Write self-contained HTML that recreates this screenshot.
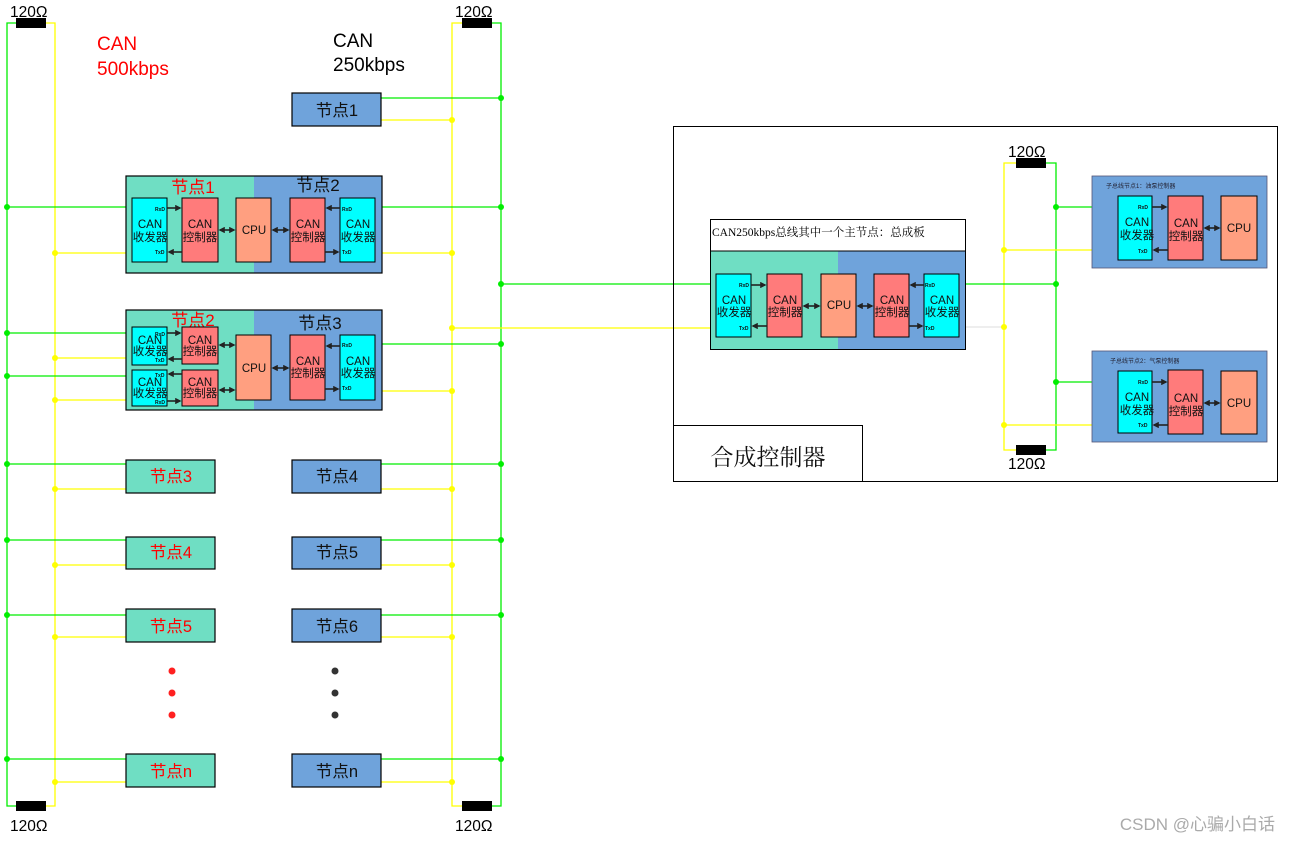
<!DOCTYPE html>
<html><head><meta charset="utf-8"><style>
html,body{margin:0;padding:0;background:#fff;}
svg{display:block;font-family:"Liberation Sans","Noto Sans CJK SC",sans-serif;}
</style></head><body>
<svg width="1290" height="842" viewBox="0 0 1290 842" xmlns="http://www.w3.org/2000/svg">
<defs>
<marker id="ah" markerWidth="4" markerHeight="4" refX="3" refY="2" orient="auto-start-reverse" markerUnits="strokeWidth"><path d="M0,0 L4,2 L0,4 z" fill="#222"/></marker>
</defs>
<g fill="none" stroke-width="1.3">
<path d="M16,23 H7 V806 H16" stroke="#00ee00"/>
<path d="M45,23 H55 V806 H45" stroke="#ffff00"/>
<path d="M462,23 H452 V806 H462" stroke="#ffff00"/>
<path d="M491,23 H501 V806 H491" stroke="#00ee00"/>
<path d="M1016,163 H1004 V450 H1016" stroke="#ffff00"/>
<path d="M1046,163 H1056 V450 H1046" stroke="#00ee00"/>
<g stroke="#00ee00">
<path d="M381,98 H501"/>
<path d="M7,207 H132 M375,207 H501"/>
<path d="M501,284 H716"/>
<path d="M7,333 H132 M7,376 H132 M375,344 H501"/>
<path d="M7,464 H126 M381,464 H501"/>
<path d="M7,540 H126 M381,540 H501"/>
<path d="M7,615 H126 M381,615 H501"/>
<path d="M7,759 H126 M381,759 H501"/>
<path d="M959,284 H1056 M1056,207 H1118 M1056,382 H1118"/>
</g>
<g stroke="#ffff00">
<path d="M381,120 H452"/>
<path d="M55,253 H132 M375,253 H452"/>
<path d="M452,328 H716"/>
<path d="M55,358 H132 M55,400 H132 M375,391 H452"/>
<path d="M55,489 H126 M381,489 H452"/>
<path d="M55,565 H126 M381,565 H452"/>
<path d="M55,637 H126 M381,637 H452"/>
<path d="M55,782 H126 M381,782 H452"/>
<path d="M1004,250 H1118 M1004,425 H1118"/>
</g>
<g stroke="#dddddd" stroke-width="1">
<path d="M959,327 H1004"/>
</g>
</g>
<g fill="#00ee00">
<circle cx="7" cy="207" r="3"/><circle cx="7" cy="333" r="3"/><circle cx="7" cy="376" r="3"/>
<circle cx="7" cy="464" r="3"/><circle cx="7" cy="540" r="3"/><circle cx="7" cy="615" r="3"/><circle cx="7" cy="759" r="3"/>
<circle cx="501" cy="98" r="3"/><circle cx="501" cy="207" r="3"/><circle cx="501" cy="284" r="3"/><circle cx="501" cy="344" r="3"/>
<circle cx="501" cy="464" r="3"/><circle cx="501" cy="540" r="3"/><circle cx="501" cy="615" r="3"/><circle cx="501" cy="759" r="3"/>
<circle cx="1056" cy="207" r="3"/><circle cx="1056" cy="284" r="3"/><circle cx="1056" cy="382" r="3"/>
</g>
<g fill="#ffff00">
<circle cx="55" cy="253" r="3"/><circle cx="55" cy="358" r="3"/><circle cx="55" cy="400" r="3"/>
<circle cx="55" cy="489" r="3"/><circle cx="55" cy="565" r="3"/><circle cx="55" cy="637" r="3"/><circle cx="55" cy="782" r="3"/>
<circle cx="452" cy="120" r="3"/><circle cx="452" cy="253" r="3"/><circle cx="452" cy="328" r="3"/><circle cx="452" cy="391" r="3"/>
<circle cx="452" cy="489" r="3"/><circle cx="452" cy="565" r="3"/><circle cx="452" cy="637" r="3"/><circle cx="452" cy="782" r="3"/>
<circle cx="1004" cy="250" r="3"/><circle cx="1004" cy="327" r="3"/><circle cx="1004" cy="425" r="3"/>
</g>
<g fill="#000">
<rect x="16" y="18" width="30" height="10"/><rect x="16" y="801" width="30" height="10"/>
<rect x="462" y="18" width="30" height="10"/><rect x="462" y="801" width="30" height="10"/>
<rect x="1016" y="158" width="30" height="10"/><rect x="1016" y="445" width="30" height="10"/>
</g>
<g font-size="15.5" fill="#000">
<text x="10" y="17">120Ω</text><text x="10" y="831">120Ω</text>
<text x="455" y="17">120Ω</text><text x="455" y="831">120Ω</text>
<text x="1008" y="157">120Ω</text><text x="1008" y="469">120Ω</text>
</g>
<g font-size="19">
<text x="97" y="50" fill="#ff0000">CAN</text><text x="97" y="75" fill="#ff0000">500kbps</text>
<text x="333" y="47" fill="#000">CAN</text><text x="333" y="71" fill="#000">250kbps</text>
</g>
<g stroke="#000" stroke-width="1.2">
<rect x="292" y="93" width="89" height="33" fill="#6fa3db"/>
<rect x="126" y="460" width="89" height="33" fill="#6fdec3"/><rect x="292" y="460" width="89" height="33" fill="#6fa3db"/>
<rect x="126" y="537" width="89" height="32" fill="#6fdec3"/><rect x="292" y="537" width="89" height="32" fill="#6fa3db"/>
<rect x="126" y="609" width="89" height="33" fill="#6fdec3"/><rect x="292" y="609" width="89" height="33" fill="#6fa3db"/>
<rect x="126" y="754" width="89" height="33" fill="#6fdec3"/><rect x="292" y="754" width="89" height="33" fill="#6fa3db"/>
</g>
<g font-size="16.5" text-anchor="middle">
<text x="337" y="116" fill="#111">节点1</text>
<text x="171" y="482" fill="#f00">节点3</text><text x="337" y="482" fill="#111">节点4</text>
<text x="171" y="558" fill="#f00">节点4</text><text x="337" y="558" fill="#111">节点5</text>
<text x="171" y="632" fill="#f00">节点5</text><text x="337" y="632" fill="#111">节点6</text>
<text x="171" y="777" fill="#f00">节点n</text><text x="337" y="777" fill="#111">节点n</text>
</g>
<g fill="#ff2020"><circle cx="172" cy="671" r="3.5"/><circle cx="172" cy="693" r="3.5"/><circle cx="172" cy="715" r="3.5"/></g>
<g fill="#333"><circle cx="335" cy="671" r="3.5"/><circle cx="335" cy="693" r="3.5"/><circle cx="335" cy="715" r="3.5"/></g>

<rect x="126" y="176" width="128" height="97" fill="#6fdec3"/>
<rect x="254" y="176" width="128" height="97" fill="#6fa3db"/>
<rect x="126" y="176" width="256" height="97" fill="none" stroke="#000" stroke-width="1.2"/>
<text x="193" y="193" font-size="17" fill="#f00" text-anchor="middle">节点1</text>
<text x="318" y="191" font-size="17" fill="#111" text-anchor="middle">节点2</text>
<g stroke="#000" stroke-width="1">
<rect x="132" y="198" width="35" height="64" fill="#00ffff"/>
<rect x="182" y="198" width="36" height="64" fill="#ff7b7b"/>
<rect x="236" y="198" width="35" height="64" fill="#ff9f80"/>
<rect x="290" y="198" width="35" height="64" fill="#ff7b7b"/>
<rect x="340" y="198" width="35" height="64" fill="#00ffff"/>
</g>
<rect x="126" y="310" width="128" height="100" fill="#6fdec3"/>
<rect x="254" y="310" width="128" height="100" fill="#6fa3db"/>
<rect x="126" y="310" width="256" height="100" fill="none" stroke="#000" stroke-width="1.2"/>
<text x="193" y="326" font-size="17" fill="#f00" text-anchor="middle">节点2</text>
<text x="320" y="329" font-size="17" fill="#111" text-anchor="middle">节点3</text>
<g stroke="#000" stroke-width="1">
<rect x="132" y="327" width="35" height="38" fill="#00ffff"/>
<rect x="132" y="370" width="35" height="36" fill="#00ffff"/>
<rect x="182" y="327" width="36" height="37" fill="#ff7b7b"/>
<rect x="182" y="370" width="36" height="36" fill="#ff7b7b"/>
<rect x="236" y="335" width="35" height="65" fill="#ff9f80"/>
<rect x="290" y="335" width="35" height="65" fill="#ff7b7b"/>
<rect x="340" y="335" width="35" height="65" fill="#00ffff"/>
</g>

<rect x="673.5" y="126.5" width="604" height="355" fill="none" stroke="#000" stroke-width="1"/>
<rect x="673.5" y="425.5" width="189" height="56" fill="#fff" stroke="#000" stroke-width="1"/>
<text x="768" y="465" font-size="23" text-anchor="middle" fill="#111" font-family="Liberation Serif,Noto Serif CJK SC,serif">合成控制器</text>
<rect x="710" y="251" width="128" height="98" fill="#6fdec3"/>
<rect x="838" y="251" width="127" height="98" fill="#6fa3db"/>
<rect x="710.5" y="219.5" width="255" height="130" fill="none" stroke="#000" stroke-width="1"/>
<line x1="710" y1="251" x2="965" y2="251" stroke="#000"/>
<text x="712" y="236" font-size="11.5" fill="#000" font-family="Liberation Serif,Noto Serif CJK SC,serif">CAN250kbps总线其中一个主节点：总成板</text>
<g stroke="#000" stroke-width="1">
<rect x="716" y="274" width="35" height="63" fill="#00ffff"/>
<rect x="767" y="274" width="35" height="63" fill="#ff7b7b"/>
<rect x="821" y="274" width="35" height="63" fill="#ff9f80"/>
<rect x="874" y="274" width="35" height="63" fill="#ff7b7b"/>
<rect x="924" y="274" width="35" height="63" fill="#00ffff"/>
</g>
<rect x="1092" y="176" width="175" height="92" fill="#6fa3db" stroke="#557" stroke-width="0.8"/>
<rect x="1092" y="351" width="175" height="91" fill="#6fa3db" stroke="#557" stroke-width="0.8"/>
<text x="1106" y="188" font-size="6" fill="#223">子总线节点1：油泵控制器</text>
<text x="1110" y="363" font-size="6" fill="#223">子总线节点2：气泵控制器</text>
<g stroke="#000" stroke-width="1">
<rect x="1118" y="196" width="34" height="64" fill="#00ffff"/>
<rect x="1168" y="196" width="35" height="64" fill="#ff7b7b"/>
<rect x="1221" y="196" width="36" height="64" fill="#ff9f80"/>
<rect x="1118" y="371" width="34" height="62" fill="#00ffff"/>
<rect x="1168" y="370" width="35" height="64" fill="#ff7b7b"/>
<rect x="1221" y="371" width="36" height="63" fill="#ff9f80"/>
</g>

<g font-size="11.5" text-anchor="middle" fill="#111">
<text x="150" y="228">CAN</text><text x="150" y="241">收发器</text>
<text x="200" y="228">CAN</text><text x="200" y="241">控制器</text>
<text x="254" y="234">CPU</text>
<text x="308" y="228">CAN</text><text x="308" y="241">控制器</text>
<text x="358" y="228">CAN</text><text x="358" y="241">收发器</text>
<text x="150" y="344">CAN</text><text x="150" y="355">收发器</text>
<text x="150" y="386">CAN</text><text x="150" y="397">收发器</text>
<text x="200" y="344">CAN</text><text x="200" y="355">控制器</text>
<text x="200" y="386">CAN</text><text x="200" y="397">控制器</text>
<text x="254" y="372">CPU</text>
<text x="308" y="365">CAN</text><text x="308" y="377">控制器</text>
<text x="358" y="365">CAN</text><text x="358" y="377">收发器</text>
<text x="734" y="304">CAN</text><text x="734" y="316">收发器</text>
<text x="785" y="304">CAN</text><text x="785" y="316">控制器</text>
<text x="839" y="309">CPU</text>
<text x="892" y="304">CAN</text><text x="892" y="316">控制器</text>
<text x="942" y="304">CAN</text><text x="942" y="316">收发器</text>
<text x="1137" y="226">CAN</text><text x="1137" y="239">收发器</text>
<text x="1186" y="227">CAN</text><text x="1186" y="240">控制器</text>
<text x="1239" y="232">CPU</text>
<text x="1137" y="401">CAN</text><text x="1137" y="414">收发器</text>
<text x="1186" y="402">CAN</text><text x="1186" y="415">控制器</text>
<text x="1239" y="407">CPU</text>
</g>
<g font-size="5" font-weight="bold" fill="#111">
<text x="155" y="211">RxD</text><text x="155" y="254">TxD</text>
<text x="342" y="211">RxD</text><text x="342" y="254">TxD</text>
<text x="155" y="336">RxD</text><text x="155" y="362">TxD</text>
<text x="155" y="377">TxD</text><text x="155" y="404">RxD</text>
<text x="342" y="347">RxD</text><text x="342" y="390">TxD</text>
<text x="739" y="287">RxD</text><text x="739" y="330">TxD</text>
<text x="925" y="287">RxD</text><text x="925" y="330">TxD</text>
<text x="1138" y="209">RxD</text><text x="1138" y="253">TxD</text>
<text x="1138" y="384">RxD</text><text x="1138" y="427">TxD</text>
</g>
<g stroke="#222" stroke-width="1.6" fill="none">
<path d="M167,208 H180" marker-end="url(#ah)"/>
<path d="M182,252 H169" marker-end="url(#ah)"/>
<path d="M220,230 H234" marker-start="url(#ah)" marker-end="url(#ah)"/>
<path d="M273,230 H288" marker-start="url(#ah)" marker-end="url(#ah)"/>
<path d="M340,208 H327" marker-end="url(#ah)"/>
<path d="M325,252 H338" marker-end="url(#ah)"/>
<path d="M167,333 H180" marker-end="url(#ah)"/>
<path d="M182,359 H169" marker-end="url(#ah)"/>
<path d="M182,374 H169" marker-end="url(#ah)"/>
<path d="M167,401 H180" marker-end="url(#ah)"/>
<path d="M220,345 H234" marker-start="url(#ah)" marker-end="url(#ah)"/>
<path d="M220,390 H234" marker-start="url(#ah)" marker-end="url(#ah)"/>
<path d="M273,368 H288" marker-start="url(#ah)" marker-end="url(#ah)"/>
<path d="M340,346 H327" marker-end="url(#ah)"/>
<path d="M325,389 H338" marker-end="url(#ah)"/>
<path d="M751,285 H765" marker-end="url(#ah)"/>
<path d="M767,326 H753" marker-end="url(#ah)"/>
<path d="M804,306 H819" marker-start="url(#ah)" marker-end="url(#ah)"/>
<path d="M858,306 H872" marker-start="url(#ah)" marker-end="url(#ah)"/>
<path d="M924,285 H911" marker-end="url(#ah)"/>
<path d="M909,326 H922" marker-end="url(#ah)"/>
<path d="M1152,207 H1166" marker-end="url(#ah)"/>
<path d="M1168,250 H1154" marker-end="url(#ah)"/>
<path d="M1205,228 H1219" marker-start="url(#ah)" marker-end="url(#ah)"/>
<path d="M1152,382 H1166" marker-end="url(#ah)"/>
<path d="M1168,425 H1154" marker-end="url(#ah)"/>
<path d="M1205,403 H1219" marker-start="url(#ah)" marker-end="url(#ah)"/>
</g>
<text x="1275" y="830" font-size="17" fill="#aaa" text-anchor="end">CSDN @心骗小白话</text>
</svg>
</body></html>
